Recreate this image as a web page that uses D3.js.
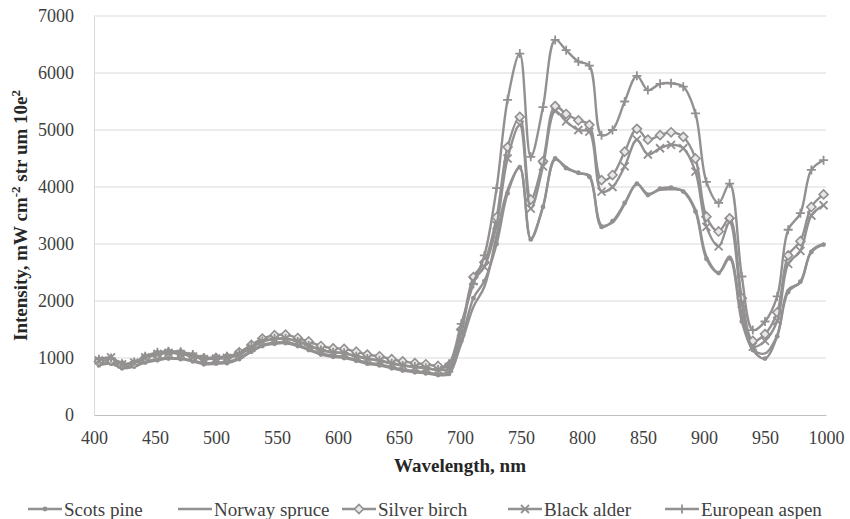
<!DOCTYPE html>
<html>
<head>
<meta charset="utf-8">
<script src="https://cdn.jsdelivr.net/npm/d3@7/dist/d3.min.js"></script>
<style>
  html, body { margin: 0; padding: 0; background: #fff; }
  svg { display: block; }
  svg text { font-family: "Liberation Serif", "Times New Roman", Tinos, "DejaVu Serif", serif !important; }
</style>
</head>
<body>
<svg id="chart" width="850" height="519"></svg>
<script>
// Wavelength samples (nm)
const wavelengths = [404, 414, 423, 433, 442, 452, 461, 471, 481, 490, 500, 509, 519, 529, 538, 548, 557, 567, 576, 586, 596, 605, 615, 624, 634, 644, 653, 663, 672, 682, 691,
  701, 711, 720, 730, 739, 749, 758, 768, 778, 787, 797, 806, 816, 825, 835, 845, 854, 864, 873, 883, 893, 902, 912, 921, 931, 940, 950, 960, 969, 979, 988, 998];

// Spectral intensity per species
const scotsPine = [870, 900, 820, 850, 920, 960, 990, 980, 940, 890, 900, 910, 980, 1110, 1210, 1250, 1260, 1210, 1140, 1060, 1020, 1000, 950, 900, 870, 820, 780, 750, 730, 700, 720,
  1300, 2050, 2350, 3000, 3890, 4350, 3080, 3650, 4500, 4330, 4250, 4180, 3300, 3400, 3720, 4060, 3860, 3970, 3990, 3920, 3570, 2740, 2490, 2750, 1640, 1140, 990, 1380, 2160, 2340, 2860, 2990];
const norwaySpruce = [900, 920, 840, 870, 940, 980, 1000, 990, 960, 910, 920, 930, 1000, 1130, 1230, 1270, 1280, 1230, 1160, 1080, 1040, 1020, 970, 920, 890, 840, 800, 770, 750, 720, 760,
  1250, 1900, 2250, 3150, 3950, 4330, 3100, 3650, 4480, 4350, 4240, 4200, 3330, 3380, 3700, 4050, 3880, 3950, 3960, 3930, 3600, 2780, 2500, 2780, 1750, 1150, 1080, 1400, 2200, 2320, 2880, 3000];
const silverBirch = [940, 960, 880, 900, 1000, 1060, 1090, 1080, 1030, 990, 1000, 1010, 1100, 1230, 1340, 1400, 1410, 1350, 1290, 1210, 1170, 1160, 1110, 1060, 1030, 980, 940, 910, 890, 860, 870,
  1500, 2420, 2680, 3470, 4700, 5230, 3780, 4450, 5420, 5280, 5170, 5090, 4120, 4210, 4620, 5020, 4830, 4910, 4960, 4880, 4500, 3480, 3220, 3450, 2050, 1300, 1420, 1800, 2800, 3050, 3650, 3870];
const blackAlder = [960, 1010, 890, 920, 1010, 1070, 1090, 1070, 1030, 980, 990, 1000, 1060, 1180, 1290, 1330, 1340, 1290, 1220, 1140, 1100, 1080, 1030, 990, 950, 900, 870, 840, 820, 790, 820,
  1450, 2350, 2600, 3330, 4500, 5090, 3620, 4360, 5330, 5150, 5000, 4970, 3920, 4000, 4360, 4830, 4570, 4680, 4740, 4680, 4270, 3300, 2960, 3380, 1950, 1200, 1300, 1650, 2650, 2880, 3500, 3680];
const europeanAspen = [980, 1000, 900, 930, 1030, 1100, 1120, 1110, 1060, 1010, 1010, 1030, 1090, 1200, 1300, 1340, 1340, 1290, 1220, 1140, 1100, 1090, 1030, 990, 960, 910, 870, 850, 830, 800, 900,
  1600, 2300, 2800, 3980, 5530, 6340, 4530, 5400, 6580, 6400, 6200, 6130, 4910, 5000, 5500, 5950, 5700, 5810, 5820, 5760, 5290, 4090, 3720, 4060, 2430, 1490, 1640, 2080, 3250, 3540, 4300, 4470];

const seriesNames = ["Scots pine", "Norway spruce", "Silver birch", "Black alder", "European aspen"];
const seriesValues = [scotsPine, norwaySpruce, silverBirch, blackAlder, europeanAspen];
const markerKinds = ["dot", "none", "diamond", "cross", "plus"];

const xTicks = [400, 450, 500, 550, 600, 650, 700, 750, 800, 850, 900, 950, 1000];
const yTicks = [0, 1000, 2000, 3000, 4000, 5000, 6000, 7000];

const LINE = "#939090";
const GRID = "#d9d9d9";

const svg = d3.select("#chart");
const plot = { left: 94, right: 826, top: 16, bottom: 415 };

const x = d3.scaleLinear().domain([400, 1000]).range([plot.left, plot.right]);
const y = d3.scaleLinear().domain([0, 7000]).range([plot.bottom, plot.top]);

// Horizontal gridlines
svg.append("g")
  .selectAll("line")
  .data(yTicks.filter(d => d > 0))
  .join("line")
  .attr("x1", plot.left).attr("x2", plot.right)
  .attr("y1", d => y(d)).attr("y2", d => y(d))
  .attr("stroke", GRID).attr("stroke-width", 1);

// Axes
const xAxis = svg.append("g")
  .attr("transform", `translate(0,${plot.bottom})`)
  .call(d3.axisBottom(x).tickValues(xTicks).tickSize(0).tickPadding(16).tickFormat(d3.format("d")));
xAxis.select(".domain").attr("stroke", "#bfbfbf").attr("stroke-width", 1.2);
xAxis.selectAll("text").attr("font-size", 18).attr("fill", "#404040");

const yAxis = svg.append("g")
  .attr("transform", `translate(${plot.left},0)`)
  .call(d3.axisLeft(y).tickValues(yTicks).tickSize(0).tickPadding(20).tickFormat(d3.format("d")));
yAxis.select(".domain").attr("stroke", "#d9d9d9").attr("stroke-width", 1);
yAxis.selectAll("text").attr("font-size", 18).attr("fill", "#404040");

// Axis titles
svg.append("text")
  .attr("x", (plot.left + plot.right) / 2).attr("y", 472)
  .attr("text-anchor", "middle")
  .attr("font-size", 19).attr("font-weight", "bold").attr("fill", "#262626")
  .text("Wavelength, nm");

const yTitle = svg.append("text")
  .attr("transform", `translate(27,${(plot.top + plot.bottom) / 2}) rotate(-90)`)
  .attr("text-anchor", "middle")
  .attr("font-size", 19).attr("font-weight", "bold").attr("fill", "#262626");
yTitle.append("tspan").text("Intensity, mW cm");
yTitle.append("tspan").attr("dy", -7).attr("font-size", 13).text("-2");
yTitle.append("tspan").attr("dy", 7).text(" str um 10e");
yTitle.append("tspan").attr("dy", -7).attr("font-size", 13).text("2");

// Marker drawing
function drawMarker(g, kind) {
  if (kind === "dot") {
    g.append("circle").attr("r", 2.4).attr("fill", LINE);
  } else if (kind === "diamond") {
    g.append("path").attr("d", "M0,-4.5L4.5,0L0,4.5L-4.5,0Z")
      .attr("fill", "#e9e8e8").attr("stroke", LINE).attr("stroke-width", 1.6);
  } else if (kind === "cross") {
    g.append("path").attr("d", "M-4,-4L4,4M-4,4L4,-4")
      .attr("stroke", LINE).attr("stroke-width", 1.8).attr("fill", "none");
  } else if (kind === "plus") {
    g.append("path").attr("d", "M-4.5,0L4.5,0M0,-4.5L0,4.5")
      .attr("stroke", LINE).attr("stroke-width", 1.8).attr("fill", "none");
  }
}

const line = d3.line()
  .x(d => x(d.w))
  .y(d => y(d.v))
  .curve(d3.curveCatmullRom.alpha(0.5));

seriesValues.forEach((vals, i) => {
  const pts = wavelengths.map((w, j) => ({ w, v: vals[j] }));
  const g = svg.append("g").attr("class", "series");
  g.append("path")
    .datum(pts)
    .attr("d", line)
    .attr("fill", "none")
    .attr("stroke", LINE)
    .attr("stroke-width", 2.4)
    .attr("stroke-linejoin", "round");
  if (markerKinds[i] !== "none") {
    g.selectAll("g.m")
      .data(pts)
      .join("g")
      .attr("class", "m")
      .attr("transform", d => `translate(${x(d.w)},${y(d.v)})`)
      .each(function () { drawMarker(d3.select(this), markerKinds[i]); });
  }
});

// Legend
const legendX = [28, 178, 342, 508, 665];
const legendY = 509;
const legend = svg.append("g");
seriesNames.forEach((name, i) => {
  const item = legend.append("g").attr("transform", `translate(${legendX[i]},${legendY})`);
  item.append("line").attr("x1", 0).attr("x2", 34).attr("y1", 0).attr("y2", 0)
    .attr("stroke", LINE).attr("stroke-width", 2.4);
  if (markerKinds[i] !== "none") {
    const m = item.append("g").attr("transform", "translate(17,0)");
    drawMarker(m, markerKinds[i]);
  }
  item.append("text").attr("x", 36).attr("y", 0).attr("dy", "0.35em")
    .attr("font-size", 19).attr("fill", "#404040").text(name);
});
</script>
</body>
</html>
